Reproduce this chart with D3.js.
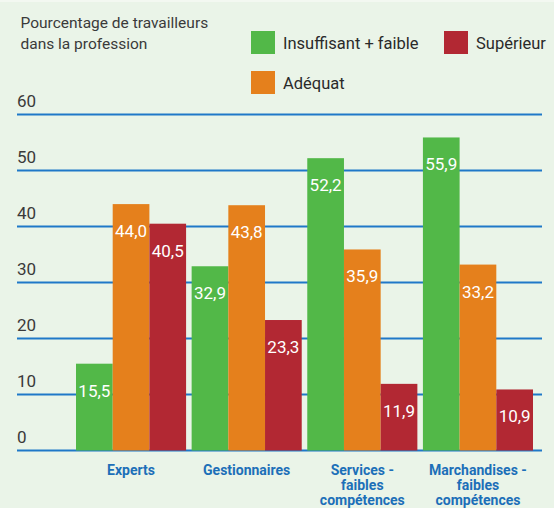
<!DOCTYPE html>
<html>
<head>
<meta charset="utf-8">
<script src="https://cdn.jsdelivr.net/npm/d3@7"></script>
<style>
  html, body { margin: 0; padding: 0; background: #eaf4e8; }
  svg { display: block; }
  text { font-family: "Liberation Sans Narrow", "Roboto", "DejaVu Sans Condensed", sans-serif; }
</style>
</head>
<body>
<div id="chart"></div>
<script>
const categories = ['Experts', 'Gestionnaires', 'Services - faibles compétences', 'Marchandises - faibles compétences'];
const categoryLines = [['Experts'], ['Gestionnaires'], ['Services -', 'faibles', 'compétences'], ['Marchandises -', 'faibles', 'compétences']];
const seriesNames = ['Insuffisant + faible', 'Adéquat', 'Supérieur'];
const insuffisant = [15.5, 32.9, 52.2, 55.9];
const adequat = [44.0, 43.8, 35.9, 33.2];
const superieur = [40.5, 23.3, 11.9, 10.9];
const yTicks = [0, 10, 20, 30, 40, 50, 60];
const yTitle = ['Pourcentage de travailleurs', 'dans la profession'];

const colors = ['#52b848', '#e5801c', '#b22833'];
const blue = '#1f78c8';
const W = 554, H = 508;

const seriesValues = [insuffisant, adequat, superieur];
const rows = categories.map((c, i) => ({ cat: c, values: seriesValues.map(s => s[i]) }));

const svg = d3.select('#chart').append('svg')
  .attr('width', W)
  .attr('height', H);

svg.append('rect').attr('width', W).attr('height', H).attr('fill', '#eaf4e8');
svg.append('rect').attr('width', W).attr('height', 2).attr('fill', '#f3f8f1');

const x = d3.scaleBand()
  .domain(categories)
  .range([76, 533])
  .paddingInner(0.048)
  .paddingOuter(0);

const xs = d3.scaleBand()
  .domain(seriesNames)
  .range([0, x.bandwidth()]);

const y = d3.scaleLinear()
  .domain([0, 60])
  .range([450.5, 114.5]);

// gridlines + tick labels
const grid = svg.append('g');
grid.selectAll('line')
  .data(yTicks)
  .enter()
  .append('line')
  .attr('x1', 17)
  .attr('x2', 542)
  .attr('y1', d => y(d))
  .attr('y2', d => y(d))
  .attr('stroke', blue)
  .attr('stroke-width', 2);

grid.selectAll('text')
  .data(yTicks)
  .enter()
  .append('text')
  .attr('x', 17)
  .attr('y', d => y(d) - 8)
  .attr('font-size', 17)
  .attr('fill', '#3a3a3a')
  .text(d => d);

// bars
const groups = svg.selectAll('g.group')
  .data(rows)
  .enter()
  .append('g')
  .attr('class', 'group')
  .attr('transform', d => `translate(${x(d.cat)},0)`);

const fmt = v => d3.format('.1f')(v).replace('.', ',');

groups.selectAll('rect')
  .data(d => d.values.map((v, i) => ({ name: seriesNames[i], v, i })))
  .enter()
  .append('rect')
  .attr('x', d => xs(d.name))
  .attr('y', d => y(d.v))
  .attr('width', xs.bandwidth())
  .attr('height', d => y(0) - y(d.v))
  .attr('fill', d => colors[d.i]);

groups.selectAll('text.val')
  .data(d => d.values.map((v, i) => ({ name: seriesNames[i], v, i })))
  .enter()
  .append('text')
  .attr('class', 'val')
  .attr('x', d => xs(d.name) + xs.bandwidth() / 2)
  .attr('y', d => y(d.v) + 33)
  .attr('text-anchor', 'middle')
  .attr('font-size', 17)
  .attr('fill', '#fff')
  .text(d => fmt(d.v));

// category labels, one text per line
groups.each(function (d, i) {
  d3.select(this).selectAll('text.cat')
    .data(categoryLines[i])
    .enter()
    .append('text')
    .attr('class', 'cat')
    .attr('x', x.bandwidth() / 2)
    .attr('y', (line, j) => 475 + j * 15)
    .attr('text-anchor', 'middle')
    .attr('font-size', 14)
    .attr('font-weight', 'bold')
    .attr('fill', '#1c6fb8')
    .text(line => line);
});

// axis title
svg.selectAll('text.title')
  .data(yTitle)
  .enter()
  .append('text')
  .attr('class', 'title')
  .attr('x', 20.5)
  .attr('y', (d, j) => 28 + j * 21)
  .attr('font-size', 15.5)
  .attr('fill', '#3a3a3a')
  .text(d => d);

// legend
const legendPos = [[251, 31], [251, 71], [444, 31]];
const legend = svg.selectAll('g.legend')
  .data(seriesNames)
  .enter()
  .append('g')
  .attr('class', 'legend')
  .attr('transform', (d, i) => `translate(${legendPos[i][0]},${legendPos[i][1]})`);

legend.append('rect')
  .attr('width', 24)
  .attr('height', 23)
  .attr('fill', (d, i) => colors[i]);

legend.append('text')
  .attr('x', 32)
  .attr('y', 18)
  .attr('font-size', 16.5)
  .attr('fill', '#2a2a2a')
  .text(d => d);
</script>
</body>
</html>
